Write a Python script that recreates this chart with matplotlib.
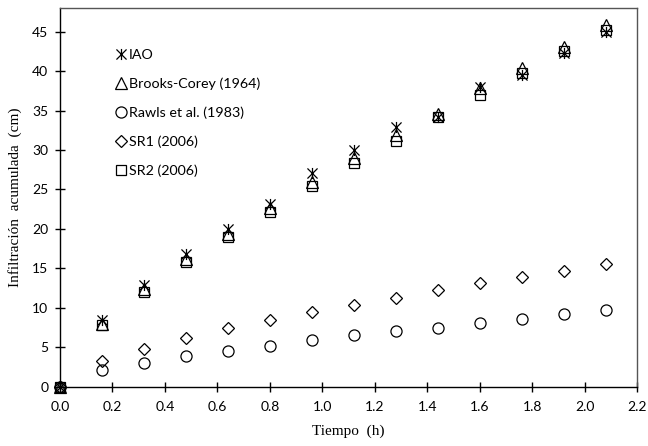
import matplotlib.pyplot as plt
from matplotlib.path import Path

# Tiempo (h)
tiempo = [0.0, 0.16, 0.32, 0.48, 0.64, 0.80, 0.96, 1.12, 1.28, 1.44, 1.60, 1.76, 1.92, 2.08]

# Infiltracion acumulada (cm)
iao = [0, 8.5, 12.9, 16.8, 20.0, 23.2, 27.1, 30.0, 32.9, 34.2, 38.0, 39.5, 42.3, 45.0]
brooks_corey = [0, 8.0, 12.4, 16.2, 19.4, 22.6, 25.9, 29.0, 31.9, 34.6, 37.8, 40.4, 43.0, 45.8]
rawls = [0, 2.1, 3.0, 3.9, 4.5, 5.2, 5.9, 6.5, 7.1, 7.5, 8.1, 8.6, 9.2, 9.7]
sr1 = [0, 3.3, 4.8, 6.2, 7.4, 8.4, 9.5, 10.4, 11.3, 12.2, 13.1, 13.9, 14.7, 15.6]
sr2 = [0, 7.8, 12.0, 15.8, 19.0, 22.2, 25.4, 28.4, 31.2, 34.2, 37.0, 39.8, 42.5, 45.2]

xticks = [0.0, 0.2, 0.4, 0.6, 0.8, 1.0, 1.2, 1.4, 1.6, 1.8, 2.0, 2.2]
yticks = [0, 5, 10, 15, 20, 25, 30, 35, 40, 45]

# Excel style star: X with a vertical bar
star = Path(
    [(-1, -1), (1, 1), (-1, 1), (1, -1), (0, -1.1), (0, 1.1)],
    [Path.MOVETO, Path.LINETO, Path.MOVETO, Path.LINETO, Path.MOVETO, Path.LINETO],
)

fig = plt.figure(figsize=(6.48, 4.46), dpi=100)
ax = fig.add_axes([0.0926, 0.133, 0.8904, 0.849])

common = dict(linestyle="none", color="black", markerfacecolor="none",
              markeredgewidth=0.9, clip_on=False)
ax.plot(tiempo, iao, marker=star, markersize=8, label="IAO", **common)
ax.plot(tiempo, brooks_corey, marker="^", markersize=8, label="Brooks-Corey (1964)", **common)
ax.plot(tiempo, rawls, marker="o", markersize=8, label="Rawls et al. (1983)", **common)
ax.plot(tiempo, sr1, marker="D", markersize=6, label="SR1 (2006)", **common)
ax.plot(tiempo, sr2, marker="s", markersize=7.5, label="SR2 (2006)", **common)

ax.set_xlim(0, 2.2)
ax.set_ylim(0, 48)
ax.set_xticks(xticks)
ax.set_xticklabels([f"{v:.1f}" for v in xticks])
ax.set_yticks(yticks)
ax.tick_params(direction="inout", length=7, width=1, labelsize=10, top=False, right=False)
ax.tick_params(axis="x", pad=7)
ax.tick_params(axis="y", pad=5)
for lab in ax.get_xticklabels() + ax.get_yticklabels():
    lab.set_family("Lato")
for s in ax.spines.values():
    s.set_linewidth(1)
ax.spines["top"].set_color("#555555")
ax.spines["right"].set_color("#555555")

ax.set_xlabel("Tiempo  (h)", family="Liberation Serif", fontsize=11, labelpad=8)
ax.set_ylabel("Infiltración  acumulada  (cm)", family="Liberation Serif", fontsize=11, labelpad=7)

leg = ax.legend(loc="upper left", bbox_to_anchor=(0.088, 0.908), frameon=False,
                handlelength=0.6, handletextpad=0.25, labelspacing=1.15,
                prop={"family": "Lato", "size": 10.3}, borderaxespad=0)

fig.savefig("out.png", dpi=100)
